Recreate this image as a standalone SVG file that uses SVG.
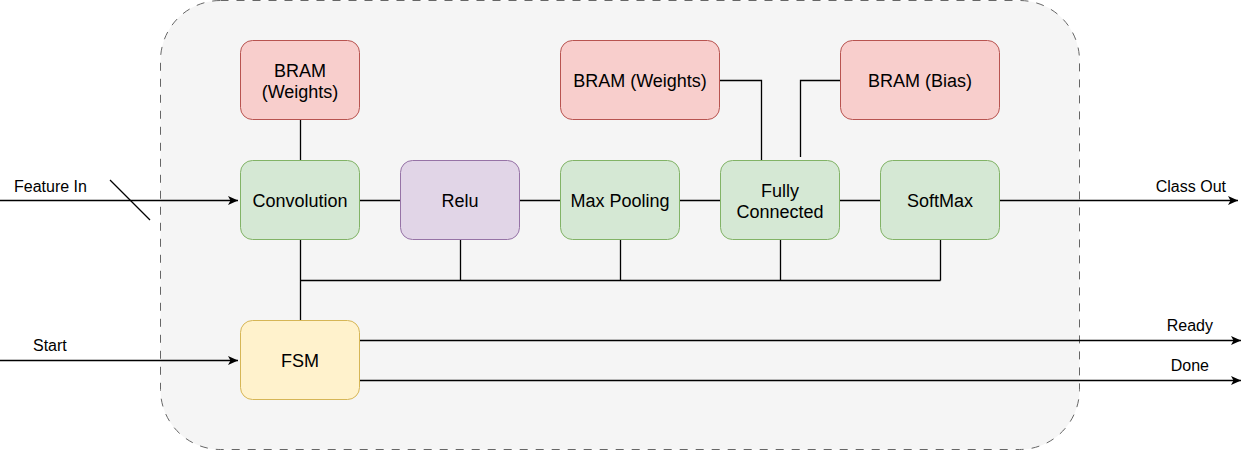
<svg xmlns="http://www.w3.org/2000/svg" width="1243" height="451" viewBox="0 0 1243 451">
<style>
.node text{font-family:"Liberation Sans",Arial,sans-serif;font-size:18px;fill:#000;text-anchor:middle}
.lbl{font-family:"Liberation Sans",Arial,sans-serif;font-size:16px;fill:#000}
.red{fill:#f8cecc;stroke:#b85450}
.green{fill:#d5e8d4;stroke:#82b366}
.purple{fill:#e1d5e7;stroke:#9673a6}
.yellow{fill:#fff2cc;stroke:#d6b656}
.ln{fill:none;stroke:#000;stroke-width:1.3}
</style>
<defs>
<marker id="arr" markerWidth="12" markerHeight="10" refX="10" refY="5" orient="auto" markerUnits="userSpaceOnUse">
<path d="M0,0.5 L10,5 L0,9.5 L2.5,5 Z" fill="#000"/>
</marker>
</defs>
<rect id="container" x="160.5" y="0.5" width="919" height="449" rx="60" ry="60" fill="#f5f5f5" stroke="#666666" stroke-dasharray="8 8"/>
<g id="connectors">
<path class="ln" d="M0,200.5 H238" marker-end="url(#arr)"/>
<path class="ln" d="M110,180 L150,220" stroke-width="1"/>
<path class="ln" d="M300.5,120 V160"/>
<path class="ln" d="M360,200.5 H400 M520,200.5 H560 M680,200.5 H720 M840,200.5 H880"/>
<path class="ln" d="M1000,200.5 H1238" marker-end="url(#arr)"/>
<path class="ln" d="M720,80.5 H761.5 V160"/>
<path class="ln" d="M800.5,157 V80.5 H840"/>
<path class="ln" d="M300.5,240 V320 M300.5,280.5 H940.5 M460.5,240 V280.5 M620.5,240 V280.5 M780.5,240 V280.5 M940.5,240 V280.5"/>
<path class="ln" d="M0,360.5 H238" marker-end="url(#arr)"/>
<path class="ln" d="M360,340.5 H1241" marker-end="url(#arr)"/>
<path class="ln" d="M360,380.5 H1241" marker-end="url(#arr)"/>
<text class="lbl" x="14" y="191.5">Feature In</text>
<text class="lbl" x="1226" y="191.5" text-anchor="end">Class Out</text>
<text class="lbl" x="33" y="351">Start</text>
<text class="lbl" x="1213" y="331" text-anchor="end">Ready</text>
<text class="lbl" x="1209" y="371" text-anchor="end">Done</text>
</g>
<g id="bram1" class="node"><rect class="red" x="240.5" y="40.5" width="119" height="79" rx="12"/><text x="300" y="77">BRAM</text><text x="300" y="98">(Weights)</text></g>
<g id="bram2" class="node"><rect class="red" x="560.5" y="40.5" width="159" height="79" rx="12"/><text x="640" y="87">BRAM (Weights)</text></g>
<g id="bram3" class="node"><rect class="red" x="840.5" y="40.5" width="159" height="79" rx="12"/><text x="920" y="87">BRAM (Bias)</text></g>
<g id="conv" class="node"><rect class="green" x="240.5" y="160.5" width="119" height="79" rx="12"/><text x="300" y="207">Convolution</text></g>
<g id="relu" class="node"><rect class="purple" x="400.5" y="160.5" width="119" height="79" rx="12"/><text x="460" y="207">Relu</text></g>
<g id="maxpool" class="node"><rect class="green" x="560.5" y="160.5" width="119" height="79" rx="12"/><text x="620" y="207">Max Pooling</text></g>
<g id="fc" class="node"><rect class="green" x="720.5" y="160.5" width="119" height="79" rx="12"/><text x="780" y="197">Fully</text><text x="780" y="218">Connected</text></g>
<g id="softmax" class="node"><rect class="green" x="880.5" y="160.5" width="119" height="79" rx="12"/><text x="940" y="207">SoftMax</text></g>
<g id="fsm" class="node"><rect class="yellow" x="240.5" y="320.5" width="119" height="79" rx="12"/><text x="300" y="367">FSM</text></g>
</svg>
